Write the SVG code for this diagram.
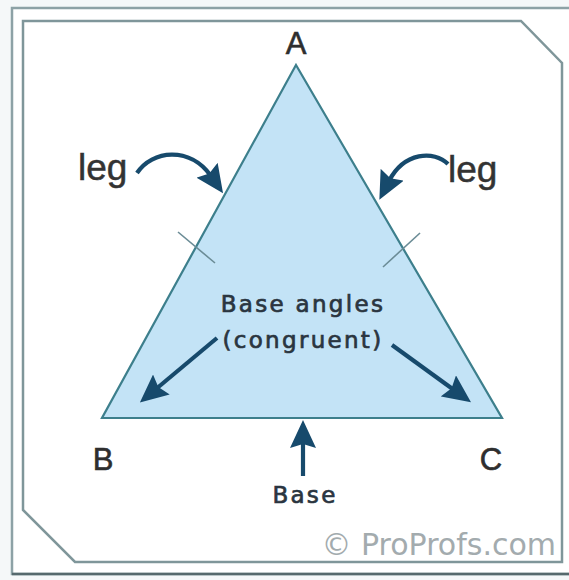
<svg xmlns="http://www.w3.org/2000/svg" width="569" height="580" viewBox="0 0 569 580">
  <style>
    .frame { fill: none; stroke: #7f969a; stroke-width: 2.5; }
    .tri { fill: #c3e3f6; stroke: #3d7f8c; stroke-width: 2.2; stroke-linejoin: miter; }
    .tick { stroke: #6b8c96; stroke-width: 1.6; fill: none; }
    .arrow { stroke: #174a6c; stroke-width: 4.2; fill: none; marker-end: url(#head); }
    .vlabel { font-family: "Liberation Sans", Arial, sans-serif; font-size: 31px; fill: #2e2e2e; stroke: #2e2e2e; stroke-width: 0.6px; text-anchor: middle; }
    .leg { font-family: "Liberation Sans", Arial, sans-serif; font-size: 37px; fill: #333333; stroke: #333333; stroke-width: 0.5px; }
    .note { font-family: "DejaVu Sans", Verdana, sans-serif; font-size: 23px; fill: #2a3540; stroke: #2a3540; stroke-width: 0.7px; letter-spacing: 2.3px; text-anchor: middle; }
    .wm { font-family: "DejaVu Sans", Verdana, sans-serif; font-size: 30px; fill: #a3abae; text-anchor: end; }
  </style>
  <defs>
    <marker id="head" markerUnits="userSpaceOnUse" viewBox="0 0 28 26" markerWidth="28" markerHeight="26" refX="7" refY="13" orient="auto">
      <path d="M0,0 L28,13 L0,26 L4,13 Z" fill="#174a6c"/>
    </marker>
  </defs>

  <rect x="0" y="0" width="569" height="580" fill="#f5f8f9"/>

  <g id="frame">
    <path d="M569,8 H12 V574 H569" fill="#ffffff" stroke="#8da2a6" stroke-width="2.5"/>
    <path d="M12,574 H569" stroke="#56696d" stroke-width="2.5" fill="none"/>
    <path class="frame" d="M23,21 H521 L562,63 V562 H75 L23,510 Z" fill="#ffffff"/>
  </g>

  <g id="triangle">
    <polygon class="tri" points="296,65 502,418 102,418"/>
    <line class="tick" x1="178" y1="232" x2="215" y2="263"/>
    <line class="tick" x1="420" y1="233" x2="383" y2="267"/>
  </g>

  <g id="label-A"><text class="vlabel" x="296" y="54">A</text></g>
  <g id="label-B"><text class="vlabel" x="103" y="470">B</text></g>
  <g id="label-C"><text class="vlabel" x="491" y="470">C</text></g>

  <g id="leg-left"><text class="leg" x="78" y="180">leg</text></g>
  <g id="leg-right"><text class="leg" x="448" y="182">leg</text></g>

  <g id="base-angles">
    <text class="note" x="303" y="312">Base angles</text>
    <text class="note" x="303" y="348">(congruent)</text>
  </g>

  <g id="base-label"><text class="note" x="305" y="503">Base</text></g>

  <g id="watermark"><text class="wm" x="556" y="555">© ProProfs.com</text></g>

  <g id="connectors">
    <path class="arrow" d="M137,173 C152,150 190,146 211,176"/>
    <path class="arrow" d="M448,164 C434,150 404,152 389,181"/>
    <path class="arrow" d="M217,338 L156,389"/>
    <path class="arrow" d="M392,345 L454,390"/>
    <path class="arrow" d="M303,476 L303,441"/>
  </g>
</svg>
